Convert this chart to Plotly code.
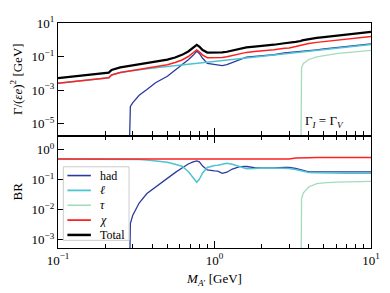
import plotly.graph_objects as go
from plotly.subplots import make_subplots

# dark-photon mass grid [GeV]
mass = [0.1, 0.15, 0.2, 0.211, 0.22, 0.25, 0.28, 0.283, 0.29, 0.3,
        0.33, 0.37, 0.42, 0.5, 0.56, 0.62, 0.68, 0.73, 0.77, 0.8,
        0.84, 0.9, 0.96, 1.0, 1.05, 1.12, 1.2, 1.3, 1.45, 1.6,
        1.8, 2.0, 2.4, 2.8, 3.0, 3.3, 3.555, 3.565, 3.6, 3.7,
        3.85, 4.0, 4.5, 5.0, 6.0, 7.0, 8.5, 10.0]

# widths Gamma/(eps e)^2 [GeV] (top panel)
width_had = [None] * 7 + [
    1e-8, 1.1e-4, 1.8e-4,
    5e-4, 1.1e-3, 2.8e-3, 6.8e-3, 1.5e-2, 3.1e-2, 6.6e-2, 0.12, 0.21, 0.155,
    0.08, 0.04, 0.036, 0.036, 0.034, 0.0295, 0.034, 0.045, 0.065, 0.095,
    0.105, 0.11, 0.13, 0.166, 0.174, 0.19, 0.2, 0.2, 0.2, 0.205,
    0.215, 0.225, 0.255, 0.285, 0.34, 0.4, 0.49, 0.575]
width_lep = [2.65e-3, 3.98e-3, 5.31e-3, 5.6e-3, 8.2e-3, 1.145e-2, 1.37e-2, 1.39e-2, 1.435e-2, 1.5e-2,
             1.686e-2, 1.92e-2, 2.2e-2, 2.64e-2, 2.956e-2, 3.28e-2, 3.6e-2, 3.86e-2, 4.08e-2, 4.24e-2,
             4.45e-2, 4.77e-2, 5.09e-2, 5.3e-2, 5.57e-2, 5.94e-2, 6.36e-2, 6.9e-2, 7.69e-2, 8.49e-2,
             9.55e-2, 0.106, 0.127, 0.1485, 0.159, 0.175, 0.1885, 0.189, 0.191, 0.196,
             0.204, 0.212, 0.239, 0.265, 0.318, 0.371, 0.451, 0.53]
width_tau = [None] * 36 + [1e-8, 0.009, 0.022, 0.04, 0.055, 0.068, 0.097, 0.117, 0.15, 0.175, 0.205, 0.235]
width_chi = [2.65e-3, 3.98e-3, 5.31e-3, 5.6e-3, 8.2e-3, 1.145e-2, 1.37e-2, 1.39e-2, 1.45e-2, 1.52e-2,
             1.74e-2, 2.03e-2, 2.48e-2, 3.32e-2, 4.46e-2, 6.38e-2, 0.102, 0.159, 0.251, 0.197,
             0.1245, 8.77e-2, 8.69e-2, 8.9e-2, 8.97e-2, 8.89e-2, 9.76e-2, 0.114, 0.142, 0.18,
             0.2, 0.216, 0.257, 0.315, 0.333, 0.40, 0.466, 0.476, 0.496, 0.529,
             0.569, 0.606, 0.709, 0.8, 0.97, 1.135, 1.375, 1.61]
width_tot = [5.3e-3, 7.96e-3, 1.06e-2, 1.12e-2, 1.64e-2, 2.29e-2, 2.74e-2, 2.78e-2, 2.9e-2, 3.04e-2,
             3.48e-2, 4.06e-2, 4.96e-2, 6.64e-2, 8.92e-2, 0.128, 0.204, 0.318, 0.502, 0.394,
             0.249, 0.175, 0.174, 0.178, 0.179, 0.178, 0.195, 0.228, 0.284, 0.36,
             0.4, 0.432, 0.514, 0.63, 0.666, 0.765, 0.855, 0.874, 0.909, 0.97,
             1.043, 1.111, 1.3, 1.467, 1.778, 2.081, 2.521, 2.95]

# branching ratios (bottom panel)
br_had = [None] * 7 + [
    1e-6, 3.5e-3, 6.5e-3,
    1.7e-2, 3.5e-2, 5.8e-2, 0.11, 0.175, 0.25, 0.34, 0.4, 0.43, 0.4,
    0.29, 0.214, 0.2, 0.2, 0.195, 0.166, 0.18, 0.23, 0.275, 0.28,
    0.257, 0.25, 0.25, 0.263, 0.263, 0.24, 0.214, 0.213, 0.21, 0.204,
    0.195, 0.19, 0.187, 0.186, 0.186, 0.186, 0.186, 0.186]
br_lep = [0.5, 0.5, 0.5, 0.5, 0.5, 0.5, 0.5, 0.5, 0.497, 0.494,
          0.483, 0.465, 0.442, 0.39, 0.33, 0.285, 0.19, 0.115, 0.083, 0.105,
          0.17, 0.26, 0.29, 0.3, 0.31, 0.34, 0.36, 0.33, 0.27, 0.235,
          0.24, 0.25, 0.247, 0.24, 0.24, 0.222, 0.205, 0.2, 0.196, 0.19,
          0.183, 0.178, 0.174, 0.17, 0.167, 0.166, 0.166, 0.166]
br_tau = [None] * 36 + [1e-6, 0.011, 0.024, 0.037, 0.047, 0.058, 0.075, 0.08, 0.084, 0.086, 0.088, 0.089]
br_chi = [0.5] * 35 + [0.535, 0.55, 0.55, 0.55, 0.55, 0.55, 0.552, 0.554, 0.556, 0.558, 0.56, 0.56, 0.56]

# tick labels
x_tickvals = [0.1, 1, 10]
x_ticktext = ["10<sup>−1</sup>", "10<sup>0</sup>", "10<sup>1</sup>"]
x_minorvals = [0.2, 0.3, 0.4, 0.5, 0.6, 0.7, 0.8, 0.9, 2, 3, 4, 5, 6, 7, 8, 9]
top_tickvals = [10, 0.1, 1e-3, 1e-5]
top_ticktext = ["10<sup>1</sup>", "10<sup>−1</sup>", "10<sup>−3</sup>", "10<sup>−5</sup>"]
bot_tickvals = [1, 0.1, 0.01, 0.001]
bot_ticktext = ["10<sup>0</sup>", "10<sup>−1</sup>", "10<sup>−2</sup>", "10<sup>−3</sup>"]

names = ["had", "<i>ℓ</i>", "<i>τ</i>", "<i>χ</i>", "Total"]
colors = ["#2b3a9e", "#4ec3d3", "#a3dcbd", "#ff2020", "#000000"]
widths = [1.3, 1.5, 1.3, 1.5, 2.2]
top_series = [width_had, width_lep, width_tau, width_chi, width_tot]
bot_series = [br_had, br_lep, br_tau, br_chi]

FONT = "Liberation Serif"

fig = make_subplots(rows=2, cols=1, shared_xaxes=True, vertical_spacing=0)

for i, ys in enumerate(top_series):
    fig.add_trace(go.Scatter(x=mass, y=ys, mode="lines", name=names[i],
                             line=dict(color=colors[i], width=widths[i]),
                             legendgroup=str(i), showlegend=False), row=1, col=1)
for i, ys in enumerate(bot_series):
    fig.add_trace(go.Scatter(x=mass, y=ys, mode="lines", name=names[i],
                             line=dict(color=colors[i], width=widths[i]),
                             legendgroup=str(i), showlegend=False), row=2, col=1)

axis_common = dict(showline=True, linecolor="black", linewidth=1.2, showgrid=False,
                   zeroline=False, ticks="inside", tickcolor="black",
                   ticklabeloverflow="allow",
                   tickfont=dict(family=FONT, size=13, color="black"))

fig.update_xaxes(type="log", range=[-1, 1], tickmode="array", tickvals=x_tickvals,
                 ticktext=x_ticktext, ticklen=7, tickwidth=1,
                 minor=dict(ticks="inside", ticklen=4, tickcolor="black",
                            tickmode="array", tickvals=x_minorvals, showgrid=False),
                 **axis_common)
fig.update_xaxes(mirror=True, showticklabels=False, row=1, col=1)
fig.update_xaxes(mirror="ticks", row=2, col=1,
                 title=dict(text="<i>M</i><sub><i>A</i>′</sub> [GeV]",
                            font=dict(family=FONT, size=13, color="black"), standoff=7))

fig.update_yaxes(mirror=True, ticklen=6, tickmode="array", **axis_common)
fig.update_yaxes(type="log", range=[-5.69, 1.003], tickvals=top_tickvals, ticktext=top_ticktext,
                 row=1, col=1,
                 title=dict(text="Γ/(<i>εe</i>)<sup>2</sup> [GeV]",
                            font=dict(family=FONT, size=13, color="black"), standoff=6))
fig.update_yaxes(type="log", range=[-3.27, 0.48], tickvals=bot_tickvals, ticktext=bot_ticktext,
                 row=2, col=1,
                 title=dict(text="BR", font=dict(family=FONT, size=13, color="black"), standoff=6))

fig.add_annotation(xref="paper", yref="paper", x=0.782, y=0.56, xanchor="left",
                   text="Γ<sub><i>I</i></sub> = Γ<sub><i>V</i></sub>", showarrow=False,
                   font=dict(family=FONT, size=13, color="black"))

# compact legend box in the lower panel (matplotlib style)
fig.add_shape(type="rect", xref="paper", yref="paper", x0=0.017, x1=0.227, y0=0.034, y1=0.361,
              line=dict(color="#cccccc", width=1), fillcolor="rgba(255,255,255,0.85)", layer="above")
leg_y = [0.322, 0.256, 0.19, 0.124, 0.058]
for i in range(5):
    fig.add_shape(type="line", xref="paper", yref="paper", x0=0.03, x1=0.105,
                  y0=leg_y[i], y1=leg_y[i], line=dict(color=colors[i], width=widths[i] + 0.3),
                  layer="above")
    fig.add_annotation(xref="paper", yref="paper", x=0.127, y=leg_y[i], xanchor="left",
                       yanchor="middle", text=names[i], showarrow=False,
                       font=dict(family=FONT, size=12, color="black"))

# page body has an 8px margin: figure is 382x285 placed at (8,8)
fig.update_layout(
    width=382, height=285,
    margin=dict(l=50, r=19, t=6, b=45),
    paper_bgcolor="white", plot_bgcolor="white",
    font=dict(family=FONT, color="black"),
    showlegend=False,
)

fig.write_html("out.html")
